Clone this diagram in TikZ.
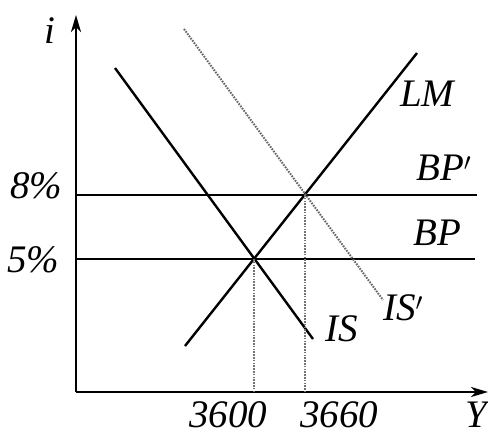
\documentclass[tikz,border=0pt]{standalone}
\usepackage{fontspec}
\setmainfont{Liberation Serif}
\usetikzlibrary{arrows.meta}
\begin{document}
\begin{tikzpicture}[x=1pt,y=-1pt,
  axis/.style={line width=2.4pt,-{Stealth[length=17pt,width=10pt,inset=5pt]}},
  curve/.style={line width=2.4pt},
  shifted/.style={line width=2pt,dash pattern=on 1.6pt off 1.2pt,black!60},
  guide/.style={line width=2pt,dash pattern=on 1.6pt off 1.2pt,black!55},
  lbl/.style={inner sep=0pt,font=\fontsize{39}{41}\selectfont\itshape}]
\useasboundingbox (0,0) rectangle (488,437);
% points
\coordinate (O) at (76,392);
\coordinate (ytop) at (76,15);
\coordinate (xend) at (488,392);
\coordinate (bp8a) at (76,195);
\coordinate (bp8b) at (477,195);
\coordinate (bp5a) at (76,259);
\coordinate (bp5b) at (475,259);
\coordinate (isA) at (115,68);
\coordinate (isB) at (313,339);
\coordinate (lmA) at (185,346);
\coordinate (lmB) at (417,53);
\coordinate (ispA) at (184,29);
\coordinate (ispB) at (383,300);
\coordinate (E1) at (254,259);
\coordinate (E2) at (305,195);
\coordinate (F1) at (254,392);
\coordinate (F2) at (305,392);
% axes
\draw[axis] (O) -- (ytop);
\draw[axis] (O) -- (xend);
% lines
\draw[curve] (bp8a) -- (bp8b);
\draw[curve] (bp5a) -- (bp5b);
\draw[curve] (isA) -- (isB);
\draw[curve] (lmA) -- (lmB);
\draw[shifted] (ispA) -- (ispB);
\draw[guide] (E1) -- (F1);
\draw[guide] (E2) -- (F2);
% labels
\node[lbl,anchor=base west] (li) at (44,43) {i};
\node[lbl,anchor=base west] (l8) at (10,198) {8\%};
\node[lbl,anchor=base west] (l5) at (7,272) {5\%};
\node[lbl,anchor=base west] (lLM) at (400,106) {LM};
\node[lbl,anchor=base west] (lBPp) at (416,180) {BP$'$};
\node[lbl,anchor=base west] (lBP) at (413,245) {BP};
\node[lbl,anchor=base west] (lISp) at (383,320) {IS$'$};
\node[lbl,anchor=base west] (lIS) at (325,341) {IS};
\node[lbl,anchor=base west] (l3600) at (189,427) {3600};
\node[lbl,anchor=base west] (l3660) at (300,427) {3660};
\node[lbl,anchor=base east] (lY) at (487,427) {Y};
\end{tikzpicture}
\end{document}
